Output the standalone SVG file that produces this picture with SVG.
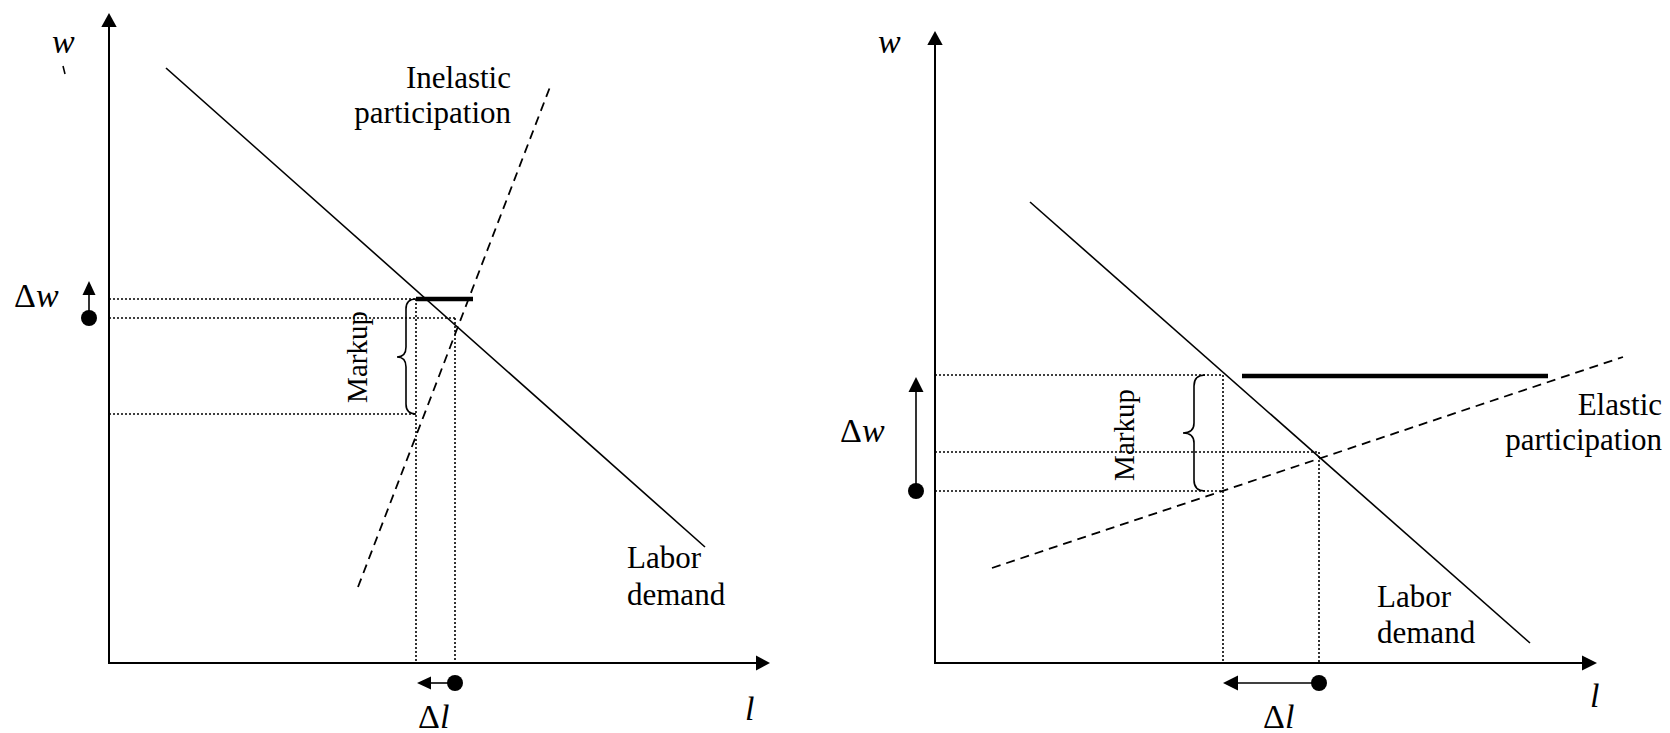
<svg xmlns="http://www.w3.org/2000/svg" width="1670" height="733" viewBox="0 0 1670 733">
<style>
  .ax{stroke:#000;stroke-width:2;fill:none}
  .ln{stroke:#000;stroke-width:1.6;fill:none}
  .dash{stroke:#000;stroke-width:1.8;fill:none;stroke-dasharray:9 6}
  .dot{stroke:#000;stroke-width:1.6;fill:none;stroke-dasharray:2 2}
  .thick{stroke:#000;stroke-width:4.5;fill:none}
  .brace{stroke:#000;stroke-width:1.6;fill:none}
  .head{fill:#000}
  .t{font-family:"Liberation Serif","Times New Roman",serif;font-size:31px;fill:#000}
  .mk{font-family:"Liberation Serif","Times New Roman",serif;font-size:29px;fill:#000}
  .s{font-family:"Liberation Serif","Times New Roman",serif;font-size:34px;fill:#000}
  .i{font-style:italic}
</style>
<rect width="1670" height="733" fill="#fff"/>

<g id="left-axes">
  <line class="ax" x1="109" y1="663" x2="109" y2="24"/>
  <polygon class="head" points="109,13 101.3,27 116.7,27"/>
  <line class="ax" x1="108" y1="663" x2="758" y2="663"/>
  <polygon class="head" points="770,663 756,655.5 756,670.5"/>
  <text class="s i" x="52" y="53">w</text>
  <path class="ln" d="M63,66 L65,74" stroke-width="1.4"/>
  <text class="s i" x="745" y="720">l</text>
</g>

<g id="left-curves">
  <line id="left-labor-demand" class="ln" x1="166" y1="68" x2="705" y2="547"/>
  <line id="left-participation" class="dash" x1="358" y1="587" x2="550" y2="87"/>
  <line class="thick" x1="416" y1="299" x2="473" y2="299"/>
</g>

<g id="left-guides">
  <line class="dot" x1="109" y1="299" x2="416" y2="299"/>
  <line class="dot" x1="109" y1="318" x2="455" y2="318"/>
  <line class="dot" x1="109" y1="414" x2="416" y2="414"/>
  <line class="dot" x1="416" y1="299" x2="416" y2="663"/>
  <line class="dot" x1="455" y1="318" x2="455" y2="663"/>
</g>

<g id="left-markup">
  <path class="brace" d="M416,299 Q406,299 406,309 L406,347 Q406,357 397,357 Q406,357 406,367 L406,404 Q406,414 416,414"/>
  <text class="mk" text-anchor="middle" transform="translate(367,357) rotate(-90)">Markup</text>
</g>

<g id="left-labels">
  <text class="t" text-anchor="end" x="511" y="88">Inelastic</text>
  <text class="t" text-anchor="end" x="511" y="123">participation</text>
  <text class="t" x="627" y="568">Labor</text>
  <text class="t" x="627" y="605">demand</text>
</g>

<g id="left-delta-w">
  <line class="ln" x1="89" y1="318" x2="89" y2="292" stroke-width="2"/>
  <polygon class="head" points="89,281 82.5,295 95.5,295"/>
  <circle cx="89" cy="318" r="8"/>
  <text class="s" x="14" y="307">Δ<tspan class="i">w</tspan></text>
</g>

<g id="left-delta-l">
  <line class="ln" x1="455" y1="683" x2="428" y2="683" stroke-width="2"/>
  <polygon class="head" points="417,683 431,676.5 431,689.5"/>
  <circle cx="455" cy="683" r="8"/>
  <text class="s" x="418" y="728">Δ<tspan class="i">l</tspan></text>
</g>

<g id="right-axes">
  <line class="ax" x1="935" y1="663" x2="935" y2="42"/>
  <polygon class="head" points="935,31 927.3,45 942.7,45"/>
  <line class="ax" x1="934" y1="663" x2="1585" y2="663"/>
  <polygon class="head" points="1597,663 1582,655.5 1582,670.5" fill="#333"/>
  <text class="s i" x="878" y="53">w</text>
  <text class="s i" x="1590" y="707">l</text>
</g>

<g id="right-curves">
  <line id="right-labor-demand" class="ln" x1="1030" y1="202" x2="1530" y2="643"/>
  <line id="right-participation" class="dash" x1="992" y1="568" x2="1623" y2="357"/>
  <line class="thick" x1="1242" y1="376" x2="1548" y2="376"/>
</g>

<g id="right-guides">
  <line class="dot" x1="935" y1="375" x2="1223" y2="375"/>
  <line class="dot" x1="935" y1="452" x2="1319" y2="452"/>
  <line class="dot" x1="935" y1="491" x2="1223" y2="491"/>
  <line class="dot" x1="1223" y1="375" x2="1223" y2="663"/>
  <line class="dot" x1="1319" y1="452" x2="1319" y2="663"/>
</g>

<g id="right-markup">
  <path class="brace" d="M1205,375 Q1194,375 1194,386 L1194,423 Q1194,433 1183,433 Q1194,433 1194,443 L1194,480 Q1194,491 1205,491"/>
  <text class="mk" text-anchor="middle" transform="translate(1134,435) rotate(-90)">Markup</text>
</g>

<g id="right-labels">
  <text class="t" text-anchor="end" x="1662" y="415">Elastic</text>
  <text class="t" text-anchor="end" x="1662" y="450">participation</text>
  <text class="t" x="1377" y="607">Labor</text>
  <text class="t" x="1377" y="643">demand</text>
</g>

<g id="right-delta-w">
  <line class="ln" x1="916" y1="491" x2="916" y2="388" stroke-width="2"/>
  <polygon class="head" points="916,377 908.5,392 923.5,392"/>
  <circle cx="916" cy="491" r="8"/>
  <text class="s" x="840" y="442">Δ<tspan class="i">w</tspan></text>
</g>

<g id="right-delta-l">
  <line class="ln" x1="1319" y1="683" x2="1235" y2="683" stroke-width="2"/>
  <polygon class="head" points="1223,683 1238,675.5 1238,690.5"/>
  <circle cx="1319" cy="683" r="8"/>
  <text class="s" x="1263" y="728">Δ<tspan class="i">l</tspan></text>
</g>
</svg>
